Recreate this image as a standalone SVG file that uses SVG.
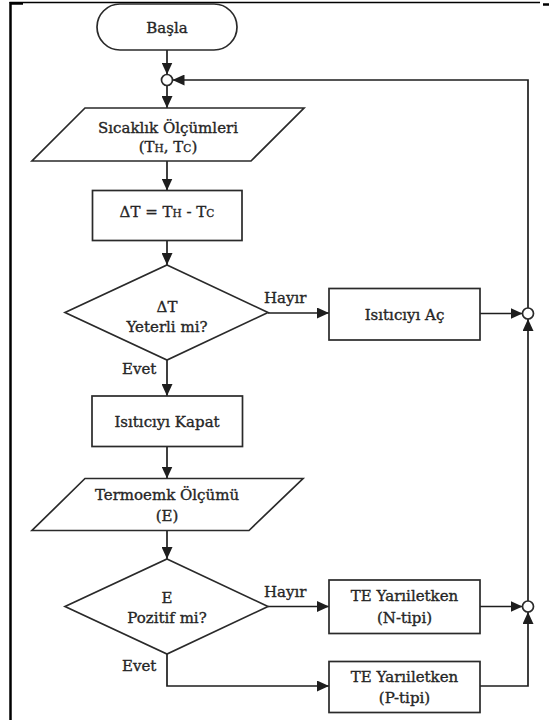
<svg xmlns="http://www.w3.org/2000/svg" width="549" height="720" viewBox="0 0 549 720">
<defs>
<marker id="arr" viewBox="0 0 12 11" refX="12" refY="5.5" markerWidth="12" markerHeight="11" markerUnits="userSpaceOnUse" orient="auto">
<path d="M0,0 L12,5.5 L0,11 z" fill="#1e1e1e"/>
</marker>
<style>
.s{fill:#fff;stroke:#2a2a2a;stroke-width:1.7}
.c{fill:none;stroke:#1e1e1e;stroke-width:1.7}
.t{font-family:"DejaVu Serif","Liberation Serif",serif;font-size:15px;fill:#262626;stroke:#262626;stroke-width:0.35;text-anchor:middle}
.l{font-family:"DejaVu Serif","Liberation Serif",serif;font-size:15px;fill:#262626;stroke:#262626;stroke-width:0.35}
.sub{font-size:10.5px}
</style>
</defs>
<rect width="549" height="720" fill="#fff"/>
<g id="frame">
<line x1="10.5" y1="2" x2="10.5" y2="720" stroke="#000" stroke-width="2.5"/>
<line x1="9.5" y1="2.5" x2="540" y2="2.5" stroke="#000" stroke-width="1.5"/>
<line x1="10" y1="3.5" x2="23" y2="3.5" stroke="#000" stroke-width="2.5"/>
<line x1="543" y1="4.5" x2="549" y2="4.5" stroke="#000" stroke-width="2.5"/>
</g>
<g id="connectors">
<line class="c" x1="167" y1="50" x2="167" y2="74.5" marker-end="url(#arr)"/>
<polyline class="c" points="528,308 528,80 172.5,80" marker-end="url(#arr)"/>
<line class="c" x1="167" y1="85.5" x2="167" y2="108" marker-end="url(#arr)"/>
<line class="c" x1="167" y1="161" x2="167" y2="190.5" marker-end="url(#arr)"/>
<line class="c" x1="167" y1="240.5" x2="167" y2="265" marker-end="url(#arr)"/>
<line class="c" x1="268" y1="313" x2="329" y2="313" marker-end="url(#arr)"/>
<line class="c" x1="480" y1="313.5" x2="522.5" y2="313.5" marker-end="url(#arr)"/>
<line class="c" x1="528" y1="601" x2="528" y2="319" marker-end="url(#arr)"/>
<line class="c" x1="167" y1="360" x2="167" y2="396" marker-end="url(#arr)"/>
<line class="c" x1="167" y1="446.5" x2="167" y2="478.5" marker-end="url(#arr)"/>
<line class="c" x1="167" y1="530.5" x2="167" y2="559" marker-end="url(#arr)"/>
<line class="c" x1="268" y1="606.5" x2="329" y2="606.5" marker-end="url(#arr)"/>
<line class="c" x1="480" y1="606.5" x2="522.5" y2="606.5" marker-end="url(#arr)"/>
<polyline class="c" points="167,654 167,686 329,686" marker-end="url(#arr)"/>
<polyline class="c" points="480,686 528,686 528,612" marker-end="url(#arr)"/>
<text class="l" x="264" y="303">Hayır</text>
<text class="l" x="122" y="373.5">Evet</text>
<text class="l" x="264" y="597">Hayır</text>
<text class="l" x="122" y="671">Evet</text>
</g>
<g id="start">
<rect class="s" x="97" y="4" width="140" height="46" rx="23"/>
<text class="t" x="167" y="32.5">Başla</text>
</g>
<g id="join1"><circle class="s" cx="167" cy="80" r="5.5"/></g>
<g id="measure">
<polygon class="s" points="85,108 304,108 251,161 32,161"/>
<text class="t" x="168" y="133">Sıcaklık Ölçümleri</text>
<text class="t" x="168" y="151.5">(T<tspan class="sub">H</tspan>, T<tspan class="sub">C</tspan>)</text>
</g>
<g id="delta">
<rect class="s" x="92.5" y="190.5" width="149.5" height="50"/>
<text class="t" x="167" y="217">ΔT = T<tspan class="sub">H</tspan> - T<tspan class="sub">C</tspan></text>
</g>
<g id="dec1">
<polygon class="s" points="167,265 268,312.5 167,360 65,312.5"/>
<text class="t" x="167" y="311.5">ΔT</text>
<text class="t" x="167" y="331.5">Yeterli mi?</text>
</g>
<g id="heaton">
<rect class="s" x="329" y="288.5" width="151" height="51.5"/>
<text class="t" x="404.5" y="320">Isıtıcıyı Aç</text>
</g>
<g id="join2"><circle class="s" cx="528" cy="313.5" r="5.5"/></g>
<g id="heatoff">
<rect class="s" x="92" y="396" width="150.5" height="50.5"/>
<text class="t" x="167" y="426.5">Isıtıcıyı Kapat</text>
</g>
<g id="emf">
<polygon class="s" points="85,478.5 303,478.5 249,530.5 32,530.5"/>
<text class="t" x="167" y="499.5">Termoemk Ölçümü</text>
<text class="t" x="167" y="521">(E)</text>
</g>
<g id="dec2">
<polygon class="s" points="167,559 268,606.5 167,654 65,606.5"/>
<text class="t" x="167" y="603">E</text>
<text class="t" x="167" y="623">Pozitif mi?</text>
</g>
<g id="ntype">
<rect class="s" x="329" y="580" width="151" height="53.5"/>
<text class="t" x="404.5" y="601">TE Yarıiletken</text>
<text class="t" x="404.5" y="622.5">(N-tipi)</text>
</g>
<g id="join3"><circle class="s" cx="528" cy="606.5" r="5.5"/></g>
<g id="ptype">
<rect class="s" x="329" y="661.5" width="151" height="51"/>
<text class="t" x="404.5" y="682">TE Yarıiletken</text>
<text class="t" x="404.5" y="703">(P-tipi)</text>
</g>
</svg>
